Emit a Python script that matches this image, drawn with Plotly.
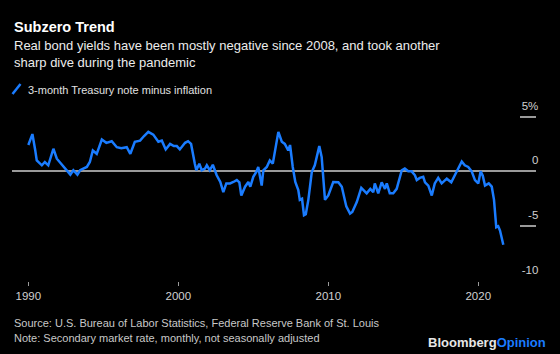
import plotly.graph_objects as go

# ---- data (decimal year, real yield %) ----
years = [
    1990.0, 1990.27, 1990.45, 1990.56, 1990.9, 1991.1, 1991.33, 1991.67, 1991.9,
    1992.2, 1992.45, 1992.67, 1992.8, 1993.0, 1993.27, 1993.45, 1993.67, 1993.9,
    1994.1, 1994.3, 1994.56, 1994.9, 1995.2, 1995.56, 1995.9, 1996.2, 1996.56,
    1996.8, 1997.1, 1997.45, 1997.7, 1998.0, 1998.33, 1998.67, 1998.9, 1999.16,
    1999.45, 1999.7, 1999.9, 2000.1, 2000.45, 2000.65, 2000.85, 2000.96, 2001.1,
    2001.2, 2001.4, 2001.56, 2001.78, 2001.9, 2002.1, 2002.3, 2002.45, 2002.56,
    2002.8, 2003.0, 2003.2, 2003.45, 2003.67, 2003.9, 2004.07, 2004.2, 2004.45,
    2004.67, 2004.8, 2005.0, 2005.2, 2005.33, 2005.56, 2005.67, 2005.9, 2006.1,
    2006.3, 2006.45, 2006.67, 2006.9, 2007.1, 2007.33, 2007.45, 2007.63, 2007.8,
    2008.0, 2008.1, 2008.25, 2008.38, 2008.5, 2008.67, 2008.9, 2009.1, 2009.4,
    2009.56, 2009.78, 2010.0, 2010.33, 2010.67, 2010.9, 2011.2, 2011.45, 2011.6,
    2011.9, 2012.2, 2012.56, 2012.8, 2013.0, 2013.1, 2013.33, 2013.56, 2013.78,
    2013.9, 2014.1, 2014.33, 2014.56, 2014.67, 2014.9, 2015.1, 2015.33, 2015.56,
    2015.78, 2015.9, 2016.1, 2016.33, 2016.45, 2016.67, 2016.9, 2017.1, 2017.33,
    2017.56, 2017.9, 2018.2, 2018.45, 2018.67, 2018.9, 2019.1, 2019.33, 2019.56,
    2019.78, 2020.0, 2020.16, 2020.3, 2020.45, 2020.7, 2020.9, 2021.05, 2021.2,
    2021.33, 2021.45, 2021.67,
]
real_yield = [
    2.4, 3.4, 2.0, 1.0, 0.55, 0.85, 0.55, 2.06, 1.15,
    0.7, 0.3, -0.06, -0.3, 0.1, -0.3, 0.1, 0.25, 0.4,
    0.85, 1.9, 1.6, 2.9, 2.6, 2.75, 2.2, 2.1, 2.2,
    1.6, 2.7, 2.8, 3.2, 3.6, 3.35, 2.7, 2.8, 2.0,
    2.5, 2.3, 2.3, 2.0, 2.6, 2.75, 2.5, 1.6, 0.7,
    0.1, 0.7, 0.1, 0.25, 0.55, 0.1, 0.6, 0.1, -0.36,
    -0.97, -1.9, -1.1, -1.1, -0.97, -0.8, -1.0, -2.2, -1.4,
    -0.97, -1.4, -0.5, -0.06, 0.4, -1.3, 0.1, 0.4, 1.0,
    0.7, 1.9, 3.6, 2.7, 2.5, 1.9, 2.4, 0.4, -0.97,
    -1.7, -2.6, -2.5, -4.0, -3.9, -2.6, -0.06, 0.55, 2.3,
    1.3, -2.6, -2.2, -0.97, -1.0, -1.4, -3.2, -3.85, -3.7,
    -2.8, -1.5, -2.0, -1.6, -1.9, -1.1, -2.0, -1.0, -1.6,
    -1.1, -2.0, -2.0, -1.6, -1.0, 0.1, 0.25, 0.0, 0.0,
    -0.36, -0.8, -0.6, -0.5, -1.0, -1.3, -2.2, -1.1, -0.6,
    -1.1, -0.67, -1.0, -0.36, 0.25, 0.9, 0.55, 0.4, 0.0,
    -0.8, -1.1, 0.0, -0.4, -1.3, -1.1, -1.4, -2.6, -5.1,
    -5.0, -5.4, -6.7,
]
x_tickvals = [1990, 2000, 2010, 2020]
x_ticktext = ["1990", "2000", "2010", "2020"]
y_tickvals = [5, 0, -5, -10]
y_ticktext = ["5%", "0", "-5", "-10"]

title = "Subzero Trend"
subtitle = ("Real bond yields have been mostly negative since 2008, and took another"
            "<br>sharp dive during the pandemic")
series_name = "3-month Treasury note minus inflation"
source = "Source: U.S. Bureau of Labor Statistics, Federal Reserve Bank of St. Louis"
note = "Note: Secondary market rate, monthly, not seasonally adjusted"

BLUE = "#1a7cff"
GRAY = "#9a9a9a"
FONT = "Liberation Sans"

W, H = 560, 354
ml, mr, mt, mb = 12, 24, 88, 73
pw = W - ml - mr
ph = H - mt - mb


def px_x(pix):
    return (pix - ml) / pw


def px_y(pix):
    return (H - mb - pix) / ph


fig = go.Figure()
fig.add_trace(go.Scatter(
    x=years, y=real_yield, mode="lines", name=series_name,
    line=dict(color=BLUE, width=2.5),
    showlegend=False, hoverinfo="skip",
))

fig.update_layout(
    width=W, height=H,
    margin=dict(l=ml, r=mr, t=mt, b=mb, autoexpand=False),
    paper_bgcolor="black", plot_bgcolor="black",
    font=dict(family=FONT, color="#d9d9d9"),
    showlegend=False,
    xaxis=dict(range=[1988.91, 2023.85], tickvals=x_tickvals, ticktext=x_ticktext,
               showgrid=False, zeroline=False, showline=False,
               ticks="outside", ticklen=4, tickwidth=1, tickcolor=GRAY,
               tickfont=dict(size=11.5, color="#d0d0d0")),
    yaxis=dict(range=[-10, 7.6], tickvals=y_tickvals, ticktext=y_ticktext,
               side="right", showgrid=False, showline=False,
               zeroline=True, zerolinecolor=GRAY, zerolinewidth=1.5,
               ticks="inside", ticklen=16, tickwidth=1.5, tickcolor=GRAY,
               ticklabelposition="inside", ticklabelshift=-11,
               ticklabelstandoff=-19,
               tickfont=dict(size=11.5, color="#d0d0d0")),
    shapes=[
        # legend key: short diagonal stroke
        dict(type="line", xref="paper", yref="paper",
             x0=px_x(12.5), y0=px_y(94), x1=px_x(20.5), y1=px_y(84),
             line=dict(color=BLUE, width=2.5)),
    ],
    annotations=[
        dict(text="<b>" + title + "</b>", x=0, y=px_y(27), xref="paper", yref="paper",
             xanchor="left", yanchor="middle", showarrow=False,
             font=dict(size=14.5, color="white", family=FONT)),
        dict(text=subtitle, x=0, y=px_y(54), xref="paper", yref="paper",
             xanchor="left", yanchor="middle", showarrow=False, align="left",
             font=dict(size=13, color="#ececec", family=FONT)),
        dict(text=series_name, x=px_x(26), y=px_y(89.5), xref="paper", yref="paper",
             xanchor="left", yanchor="middle", showarrow=False,
             font=dict(size=11, color="#e0e0e0", family=FONT)),
        dict(text=source, x=0, y=px_y(323), xref="paper", yref="paper",
             xanchor="left", yanchor="middle", showarrow=False,
             font=dict(size=11, color="#c8c8c8", family=FONT)),
        dict(text=note, x=0, y=px_y(338), xref="paper", yref="paper",
             xanchor="left", yanchor="middle", showarrow=False,
             font=dict(size=11, color="#c8c8c8", family=FONT)),
        dict(text="<b>Bloomberg</b><b><span style='color:%s'>Opinion</span></b>" % BLUE,
             x=px_x(548), y=px_y(342), xref="paper", yref="paper",
             xanchor="right", yanchor="middle", showarrow=False,
             font=dict(size=13, color="#e6e6e6", family=FONT)),
    ],
)

fig.write_html("out.html")
